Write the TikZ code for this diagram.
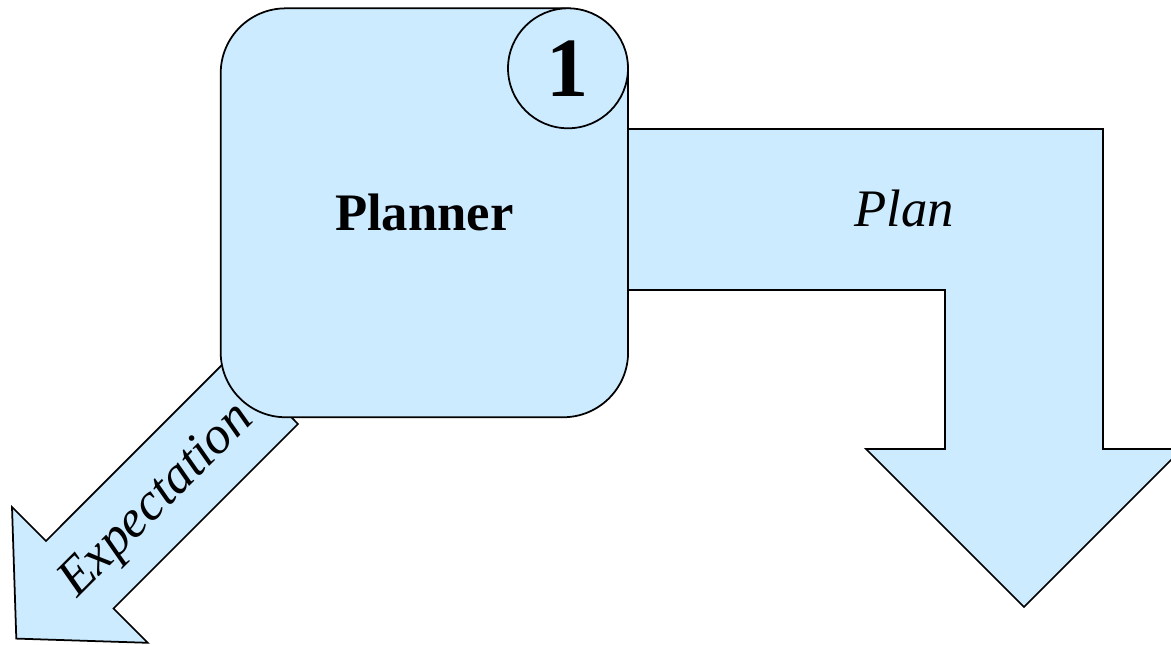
\documentclass[tikz,border=0pt]{standalone}
\usepackage{fontspec}
\setmainfont{Liberation Serif}
\usetikzlibrary{positioning}
\definecolor{paleblue}{RGB}{204,235,255}
\tikzset{
      shape fill/.style={fill=paleblue, draw=black, line width=1pt},   % common look of all shapes
      planner box/.style={shape fill, rounded corners=1.3cm,
                  minimum width=8.15cm, minimum height=8.18cm, inner sep=0pt,
                  font=\fontsize{30}{36}\selectfont\bfseries},
      number circle/.style={shape fill, circle, minimum size=2.4cm, inner sep=0pt,
                  font=\fontsize{48}{52}\selectfont\bfseries},
      arrow label/.style={font=\fontsize{30}{36}\selectfont\itshape, anchor=base}
}

\begin{document}
\begin{tikzpicture}[x=0.02cm, y=-0.02cm]
                  \useasboundingbox (0, 0) rectangle (1171, 645);
                  % the plan arrow, going right and then down
                  \filldraw [shape fill] (600, 129) -- (1103, 129) -- (1103, 449) -- (1182, 449)
                        -- (1024, 607) -- (866, 449) -- (945, 449) -- (945, 290) -- (600, 290) -- cycle;
                  \node [arrow label] (plan) at (904, 226.7) {Plan};
                  % the expectation arrow, pointing down left
                  \filldraw [shape fill] (298, 424) -- (113.5, 608.5) -- (147.8, 642.8) -- (16.3, 638.6)
                        -- (12, 507) -- (46, 541) -- (230.5, 356.4) -- cycle;
                  \node [arrow label, rotate=45] (expect) at (166, 510) {Expectation};
                  % the planner with its number
                  \node [planner box] (planner) at (424.4, 212.8) {Planner};
                  \node [number circle] (num) at (568, 68.3) {\raisebox{-0.4ex}{1}};
            \end{tikzpicture}
\end{document}
